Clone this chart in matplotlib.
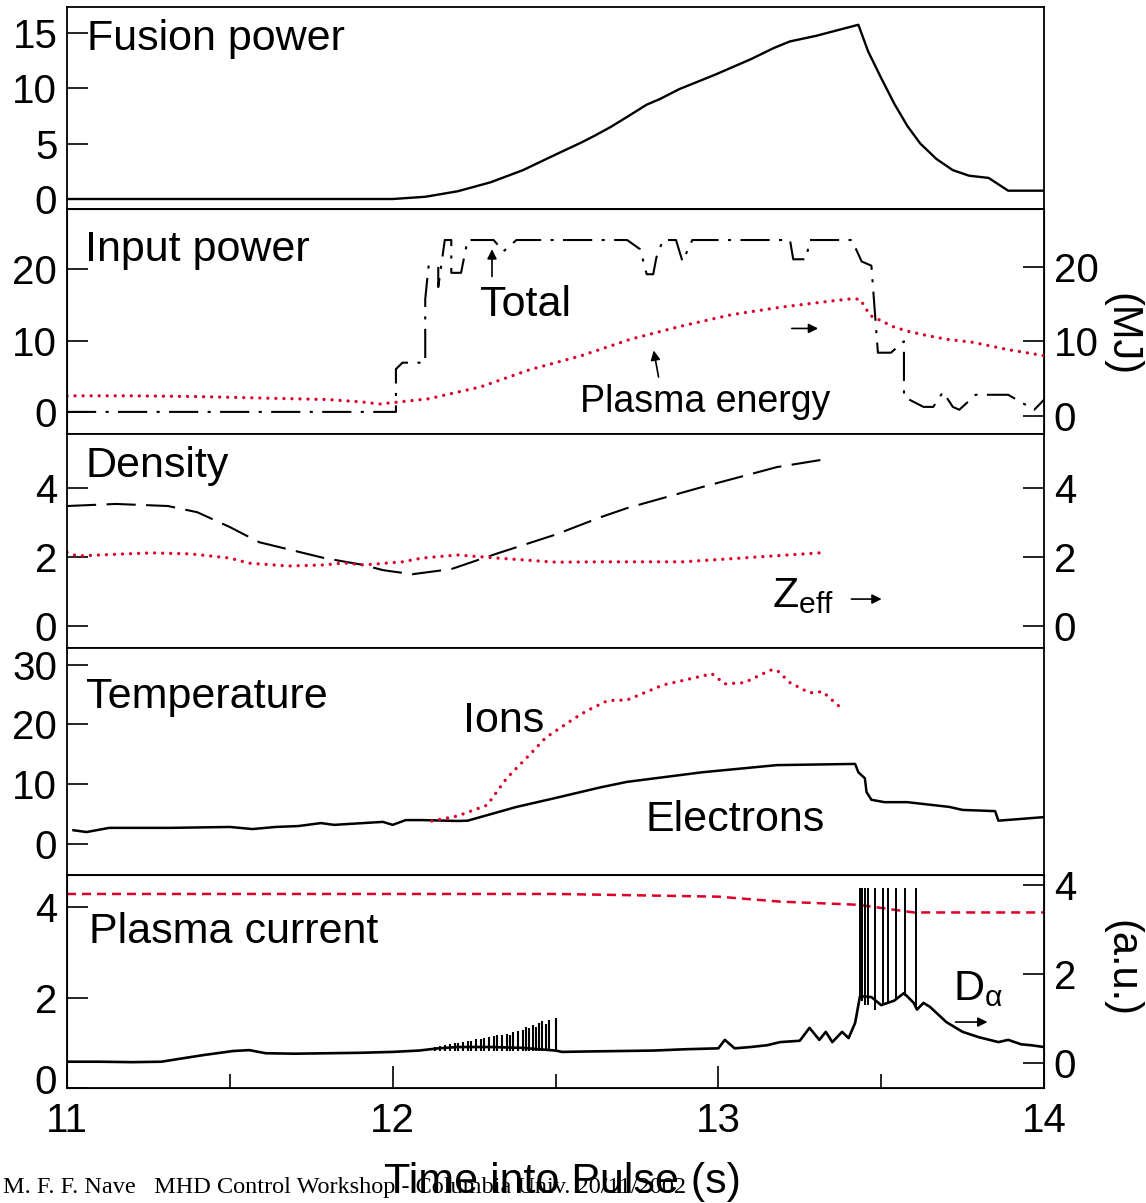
import matplotlib
matplotlib.use("Agg")
import matplotlib.pyplot as plt
from matplotlib.transforms import ScaledTranslation

plt.rcParams['font.family'] = ['Liberation Sans', 'DejaVu Sans']
plt.rcParams['mathtext.fontset'] = 'custom'
plt.rcParams['mathtext.rm'] = 'Liberation Sans'
plt.rcParams['mathtext.it'] = 'Liberation Sans:italic'

# ---- data ----
fus_t = [11.0, 11.05, 12.0, 12.1, 12.2, 12.3, 12.4, 12.5, 12.58, 12.62, 12.67, 12.72, 12.78, 12.82,
         12.88, 12.99, 13.10, 13.17, 13.22, 13.30, 13.43, 13.46, 13.50, 13.54, 13.58, 13.62, 13.67,
         13.72, 13.77, 13.83, 13.89, 14.0]
fus_p = [0.0, 0.0, 0.0, 0.2, 0.7, 1.5, 2.6, 4.0, 5.1, 5.7, 6.5, 7.4, 8.5, 9.0,
         9.9, 11.2, 12.6, 13.6, 14.2, 14.7, 15.7, 13.3, 10.9, 8.6, 6.6, 5.0, 3.6,
         2.6, 2.1, 1.9, 0.75, 0.75]

pin_t = [11.0, 12.01, 12.01, 12.03, 12.10, 12.10, 12.11, 12.14, 12.14, 12.16, 12.18, 12.18, 12.21,
         12.23, 12.31, 12.34, 12.38, 12.72, 12.76, 12.78, 12.80, 12.81, 12.83, 12.87, 12.89, 12.92,
         13.22, 13.23, 13.27, 13.28, 13.41, 13.44, 13.47, 13.49, 13.53, 13.57, 13.57, 13.63, 13.66,
         13.69, 13.72, 13.74, 13.79, 13.89, 13.97, 14.0]
pin_v = [0, 0, 6.0, 6.9, 6.9, 15.8, 20.4, 20.4, 17.5, 24.1, 24.1, 19.5, 19.5,
         24.1, 24.1, 22.5, 24.1, 24.1, 22.8, 19.3, 19.3, 21.7, 24.1, 24.1, 21.1, 24.1,
         24.1, 21.4, 21.4, 24.1, 24.1, 21.1, 20.5, 8.3, 8.3, 9.9, 2.1, 0.7, 0.7,
         2.8, 0.7, 0.3, 2.4, 2.4, 0.3, 1.7]

we_t = [11.0, 11.2, 11.4, 11.6, 11.8, 11.9, 11.96, 12.11, 12.27, 12.42, 12.58, 12.73, 12.88, 13.04,
        13.19, 13.34, 13.40, 13.435, 13.466, 13.49, 13.536, 13.58, 13.63, 13.70, 13.78, 13.89, 14.0]
we_v = [2.7, 2.7, 2.6, 2.4, 2.2, 1.9, 1.6, 2.3, 3.9, 6.2, 8.1, 10.3, 12.0, 13.6,
        14.6, 15.4, 15.7, 15.7, 13.5, 13.0, 12.0, 11.4, 10.9, 10.3, 9.9, 8.9, 8.1]

den_t = [11.0, 11.15, 11.31, 11.40, 11.5, 11.59, 11.69, 11.79, 11.91, 11.97, 12.06, 12.18, 12.32,
         12.5, 12.64, 12.72, 12.95, 13.18, 13.33]
den_v = [3.48, 3.54, 3.48, 3.3, 2.87, 2.43, 2.2, 1.97, 1.77, 1.62, 1.5, 1.65, 2.1,
         2.65, 3.16, 3.42, 4.03, 4.61, 4.84]

zeff_t = [11.0, 11.03, 11.15, 11.26, 11.38, 11.5, 11.56, 11.68, 11.79, 11.85, 11.91, 12.03, 12.09,
          12.2, 12.32, 12.5, 12.64, 12.89, 13.07, 13.31]
zeff_v = [2.14, 2.03, 2.08, 2.12, 2.09, 1.97, 1.82, 1.74, 1.77, 1.83, 1.77, 1.86, 1.97,
          2.06, 1.97, 1.85, 1.86, 1.86, 1.97, 2.12]

te_t = [11.02, 11.06, 11.13, 11.32, 11.5, 11.57, 11.64, 11.71, 11.78, 11.82, 11.97, 12.0, 12.04,
        12.09, 12.2, 12.23, 12.38, 12.5, 12.64, 12.72, 12.95, 13.18, 13.42, 13.43, 13.45, 13.455,
        13.47, 13.51, 13.58, 13.71, 13.75, 13.85, 13.86, 14.0]
te_v = [2.3, 2.0, 2.7, 2.7, 2.85, 2.5, 2.85, 3.0, 3.5, 3.2, 3.7, 3.2, 4.0,
        4.0, 3.85, 3.9, 6.2, 7.7, 9.5, 10.4, 12.0, 13.2, 13.4, 12.0, 11.0, 8.7,
        7.4, 7.0, 7.0, 6.2, 5.7, 5.5, 3.9, 4.5]

ti_t = [12.12, 12.2, 12.29, 12.35, 12.42, 12.47, 12.56, 12.6, 12.66, 12.72, 12.83, 12.95, 12.98,
        13.02, 13.08, 13.16, 13.18, 13.22, 13.28, 13.32, 13.38]
ti_v = [3.85, 4.7, 6.5, 11.0, 14.9, 17.8, 21.1, 22.4, 24.0, 24.1, 26.6, 28.1, 28.5,
        26.8, 27.0, 29.1, 29.1, 27.0, 25.3, 25.5, 22.6]

ip_t = [11.0, 12.5, 13.0, 13.19, 13.43, 13.6, 14.0]
ip_v = [4.3, 4.3, 4.24, 4.13, 4.06, 3.89, 3.89]

da_t = [11.00, 11.10, 11.20, 11.29, 11.35, 11.42, 11.51, 11.56, 11.61, 11.70, 11.80, 11.90, 12.00,
        12.08, 12.14, 12.20, 12.30, 12.40, 12.50, 12.52, 12.60, 12.70, 12.80, 12.90, 13.00, 13.02,
        13.05, 13.10, 13.15, 13.19, 13.25, 13.28, 13.31, 13.33, 13.35, 13.38, 13.40, 13.42, 13.435,
        13.47, 13.50, 13.54, 13.57, 13.60, 13.61, 13.63, 13.65, 13.70, 13.75, 13.80, 13.86, 13.89,
        13.93, 13.96, 14.00]
da_v = [0.03, 0.03, 0.02, 0.03, 0.10, 0.18, 0.27, 0.29, 0.22, 0.21, 0.22, 0.23, 0.25,
        0.28, 0.33, 0.36, 0.36, 0.34, 0.28, 0.25, 0.26, 0.27, 0.28, 0.31, 0.33, 0.52,
        0.33, 0.36, 0.40, 0.47, 0.50, 0.79, 0.52, 0.70, 0.47, 0.70, 0.56, 0.90, 1.50,
        1.48, 1.30, 1.40, 1.57, 1.35, 1.20, 1.35, 1.26, 0.92, 0.70, 0.58, 0.47, 0.52,
        0.42, 0.40, 0.36]

elm_small_t = [12.13, 12.145, 12.16, 12.175, 12.19, 12.20, 12.215, 12.23, 12.24, 12.255, 12.27,
               12.28, 12.295, 12.31, 12.32, 12.335, 12.35, 12.36, 12.37, 12.385, 12.40, 12.41,
               12.42, 12.43, 12.44, 12.45, 12.46, 12.47, 12.48, 12.50]
elm_small_top = [0.36, 0.38, 0.40, 0.42, 0.44, 0.45, 0.47, 0.49, 0.50, 0.53, 0.55,
                 0.56, 0.58, 0.60, 0.62, 0.64, 0.66, 0.63, 0.70, 0.72, 0.75, 0.82,
                 0.78, 0.86, 0.80, 0.90, 0.94, 0.88, 0.97, 1.02]
elm_small_base = 0.28

elm_big_t = [13.435, 13.44, 13.45, 13.46, 13.48, 13.505, 13.52, 13.545, 13.573, 13.607]
elm_big_base = [1.5, 1.4, 1.3, 1.3, 1.2, 1.3, 1.35, 1.45, 1.5, 1.25]
elm_big_top = 3.93

RED = '#dc0028'
FS = 29      # tick labels
LFS = 31     # panel labels
DOT = dict(color=RED, lw=2.4, linestyle=(0, (0.01, 2.4)), dash_capstyle='round')
ARROW = dict(arrowstyle='-|>', color='black', lw=1.2, mutation_scale=14)

W, H = 1146, 1203
fig = plt.figure(figsize=(W / 100, H / 100), dpi=100)


def panel(top, bottom):
    ax = fig.add_axes([67 / W, 1 - bottom / H, (1044 - 67) / W, (bottom - top) / H])
    ax.set_xlim(11, 14)
    for s in ax.spines.values():
        s.set_linewidth(1.3)
    ax.tick_params(axis='x', bottom=False, labelbottom=False)
    ax.tick_params(axis='y', direction='in', length=15, width=1.2, labelsize=FS, pad=7)
    return ax


def right_ticks(ax):
    ax.tick_params(axis='y', direction='in', length=15, width=1.2, labelsize=FS, pad=7,
                   right=True, labelright=True)


# ---- Fusion power ----
ax1 = panel(7, 209)
ax1.plot(fus_t, fus_p, color='black', lw=1.7)
ax1.set_ylim(-0.9, 17.3)
ax1.set_yticks([0, 5, 10, 15])
ax1.text(11.061, 13.4, 'Fusion power', fontsize=LFS, va='baseline')

# ---- Input power / plasma energy ----
ax2 = panel(209, 434)
ax2.plot(pin_t, pin_v, color='black', lw=1.5, linestyle=(0, (14, 4.5, 1.5, 4.5)))
ax2.set_ylim(-3.1, 28.45)
ax2.set_yticks([0, 10, 20])
ax2r = ax2.twinx()
ax2r.plot(we_t, we_v, **DOT)
ax2r.set_ylim(-2.43, 27.8)
ax2r.set_yticks([0, 10, 20])
right_ticks(ax2r)
ax2.text(11.055, 21.1, 'Input power', fontsize=LFS, va='baseline')
ax2.text(12.268, 13.4, 'Total', fontsize=LFS, va='baseline')
ax2.annotate('', xy=(12.305, 23.2), xytext=(12.305, 18.6), arrowprops=ARROW)
ax2.annotate('', xy=(12.80, 9.0), xytext=(12.818, 4.5), arrowprops=ARROW)
ax2.annotate('', xy=(13.315, 11.7), xytext=(13.217, 11.7), arrowprops=ARROW)
ax2.text(12.575, 0.0, 'Plasma energy', fontsize=27, va='baseline')

# ---- Density / Zeff ----
ax3 = panel(434, 648)
ax3.plot(den_t, den_v, color='black', lw=1.5, linestyle=(0, (14, 5)))
ax3.plot(zeff_t, zeff_v, **DOT)
ax3.set_ylim(-0.64, 5.57)
ax3.set_yticks([0, 2, 4])
right_ticks(ax3)
ax3.text(11.058, 4.32, 'Density', fontsize=LFS, va='baseline')
ax3.text(13.165, 0.55, r'Z$_{\mathrm{eff}}$', fontsize=LFS, va='baseline')
ax3.annotate('', xy=(13.51, 0.78), xytext=(13.40, 0.78), arrowprops=ARROW)

# ---- Temperature ----
ax4 = panel(648, 875)
ax4.plot(te_t, te_v, color='black', lw=1.8)
ax4.plot(ti_t, ti_v, **DOT)
ax4.set_ylim(-5.19, 32.8)
ax4.set_yticks([0, 10, 20, 30])
ax4.text(11.058, 22.8, 'Temperature', fontsize=LFS, va='baseline')
ax4.text(12.216, 18.8, 'Ions', fontsize=LFS, va='baseline')
ax4.text(12.775, 2.2, 'Electrons', fontsize=LFS, va='baseline')

# ---- Plasma current / D-alpha ----
ax5 = panel(875, 1088)
ax5.plot(ip_t, ip_v, color=RED, lw=1.8, linestyle=(0, (3.6, 2.4)))
ax5.set_ylim(0, 4.72)
ax5.set_yticks([0, 2, 4])
ax5r = ax5.twinx()
ax5r.plot(da_t, da_v, color='black', lw=1.9)
ax5r.vlines(elm_small_t, elm_small_base, elm_small_top, color='black', lw=1.5)
ax5r.vlines(elm_big_t, elm_big_base, elm_big_top, color='black', lw=1.4)
ax5r.set_ylim(-0.56, 4.22)
ax5r.set_yticks([0, 2, 4])
right_ticks(ax5r)
ax5.text(11.068, 3.22, 'Plasma current', fontsize=LFS, va='baseline')
ax5r.text(13.72, 1.42, r'D$_{\mathrm{α}}$', fontsize=LFS, va='baseline')
ax5r.annotate('', xy=(13.835, 0.92), xytext=(13.72, 0.92), arrowprops=ARROW)
ax5.set_xticks([11, 12, 13, 14])
ax5.set_xticks([11.5, 12.5, 13.5], minor=True)
ax5.tick_params(axis='x', which='major', bottom=True, labelbottom=True, direction='in',
                length=16, width=1.2, labelsize=FS, pad=10)
ax5.tick_params(axis='x', which='minor', bottom=True, direction='in', length=10, width=1.2)
# the bottom "0" sits a little above its tick in the original
lab0 = ax5.get_yticklabels()[0]
lab0.set_transform(lab0.get_transform() + ScaledTranslation(0, 9 / 100, fig.dpi_scale_trans))

fig.text(1121 / W, 1 - 335 / H, '(MJ)', rotation=-90, ha='center', va='center', fontsize=30)
fig.text(1121 / W, 1 - 968 / H, '(a.u.)', rotation=-90, ha='center', va='center', fontsize=30)
fig.text(3 / W, 1 - 1188 / H, 'M. F. F. Nave   MHD Control Workshop - Columbia Univ. 20/11/2002',
         family='Liberation Serif', fontsize=17.5, va='center')
fig.text(562 / W, 1 - 1182 / H, 'Time into Pulse (s)', ha='center', va='center', fontsize=31)

fig.savefig('out.png', dpi=100)
